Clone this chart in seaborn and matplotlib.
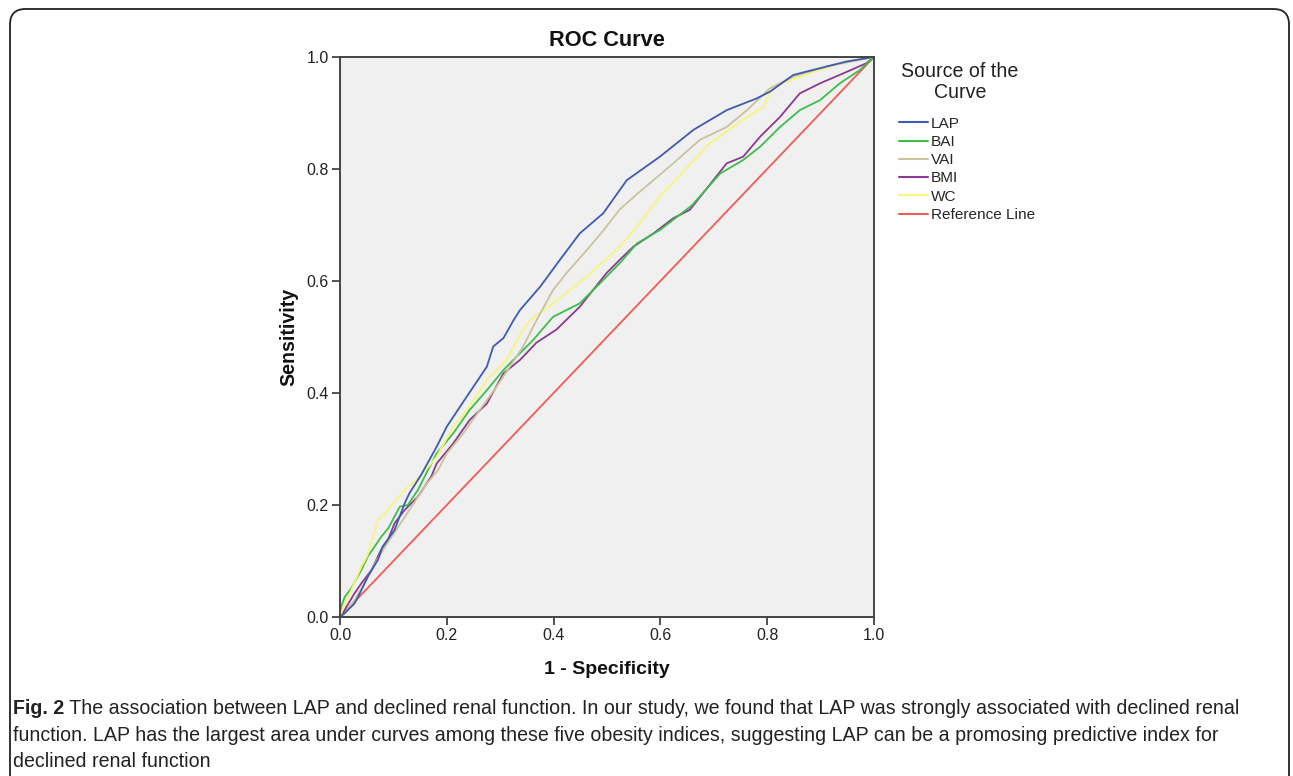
import numpy as np
import pandas as pd
import matplotlib
matplotlib.use("Agg")
import matplotlib.pyplot as plt
from matplotlib.patches import FancyBboxPatch
from matplotlib.lines import Line2D
from matplotlib import font_manager
import seaborn as sns

# ---------------- data ----------------
lap_fpr = [0, .009, .027, .034, .052, .071, .080, .102, .121, .130, .152, .181, .200, .237, .275, .287,
           .306, .325, .337, .375, .412, .449, .493, .537, .599, .662, .724, .780, .805, .849, .911, .949, 1]
lap_tpr = [0, .007, .024, .036, .072, .102, .126, .155, .203, .221, .254, .304, .340, .393, .447, .483,
           .498, .530, .548, .590, .638, .685, .721, .780, .822, .870, .905, .926, .938, .968, .983, .992, 1]

bai_fpr = [0, .002, .009, .021, .040, .052, .065, .077, .090, .102, .112, .127, .146, .165, .181, .212,
           .243, .275, .306, .337, .362, .399, .449, .487, .524, .556, .599, .659, .712, .755, .787, .824,
           .861, .899, .936, .974, 1]
bai_tpr = [0, .018, .036, .051, .084, .108, .126, .143, .158, .179, .197, .200, .227, .263, .292, .328,
           .370, .405, .441, .471, .495, .536, .560, .596, .632, .667, .691, .735, .792, .816, .840, .875,
           .905, .923, .953, .977, 1]

vai_fpr = [0, .009, .027, .046, .065, .084, .109, .134, .160, .184, .200, .231, .262, .293, .318, .343,
           .368, .399, .425, .462, .493, .524, .556, .587, .631, .674, .724, .762, .805, .849, .911, 1]
vai_tpr = [0, .007, .030, .060, .095, .125, .161, .197, .235, .263, .292, .328, .370, .411, .447, .483,
           .530, .584, .615, .655, .690, .728, .755, .780, .816, .852, .875, .905, .944, .965, .983, 1]

bmi_fpr = [0, .009, .027, .040, .059, .077, .090, .102, .121, .146, .171, .181, .212, .243, .275, .306,
           .337, .368, .405, .449, .474, .499, .524, .549, .587, .624, .655, .680, .724, .755, .787, .824,
           .861, .899, .943, .986, 1]
bmi_tpr = [0, .013, .042, .060, .084, .120, .138, .167, .191, .215, .251, .274, .310, .352, .381, .435,
           .459, .490, .513, .554, .584, .614, .638, .661, .685, .712, .727, .757, .810, .822, .858, .893,
           .935, .953, .971, .989, 1]

wc_fpr = [0, .002, .021, .040, .052, .071, .084, .121, .150, .181, .212, .243, .275, .312, .337, .356,
          .399, .462, .524, .556, .599, .693, .755, .793, .811, .880, .949, 1]
wc_tpr = [0, .007, .048, .090, .111, .173, .185, .227, .251, .286, .340, .376, .423, .459, .504, .530,
          .560, .608, .661, .697, .751, .846, .888, .911, .947, .971, .992, 1]

ref_fpr = [0, 1]
ref_tpr = [0, 1]

curve_names = ["LAP", "BAI", "VAI", "BMI", "WC", "Reference Line"]
legend_title = "Source of the\nCurve"
x_ticks = [0.0, 0.2, 0.4, 0.6, 0.8, 1.0]
y_ticks = [0.0, 0.2, 0.4, 0.6, 0.8, 1.0]

caption_bold = "Fig. 2"
caption_lines = [
    " The association between LAP and declined renal function. In our study, we found that LAP was strongly associated with declined renal",
    "function. LAP has the largest area under curves among these five obesity indices, suggesting LAP can be a promosing predictive index for",
    "declined renal function",
]

colors = {"LAP": "#3e5bb0", "BAI": "#3cbd4c", "VAI": "#c9c39a", "BMI": "#8b3a91",
          "WC": "#f7f57c", "Reference Line": "#f25a55"}

series = [("LAP", lap_fpr, lap_tpr), ("BAI", bai_fpr, bai_tpr), ("VAI", vai_fpr, vai_tpr),
          ("BMI", bmi_fpr, bmi_tpr), ("WC", wc_fpr, wc_tpr), ("Reference Line", ref_fpr, ref_tpr)]

frames = []
for name, fx, fy in series:
    frames.append(pd.DataFrame({"fpr": fx, "tpr": fy, "curve": name}))
df = pd.concat(frames, ignore_index=True)

# ---------------- styling ----------------
sns.set_theme(style="white")
installed = {f.name for f in font_manager.fontManager.ttflist}
base_font = "Liberation Sans" if "Liberation Sans" in installed else "DejaVu Sans"
plt.rcParams["font.family"] = [base_font, "DejaVu Sans"]

W, H = 1293, 776
fig = plt.figure(figsize=(W / 100, H / 100), dpi=100)
fig.patch.set_facecolor("white")

# rounded border around the figure panel (open at the bottom edge)
border = FancyBboxPatch((10 / W, -0.05), 1279 / W, 1.05 - 9 / H,
                        boxstyle="round,pad=0,rounding_size=0.012",
                        transform=fig.transFigure, fill=False, edgecolor="#222222",
                        linewidth=1.3, mutation_aspect=W / H)
fig.patches.append(border)

ax = fig.add_axes([340 / W, 1 - 617 / H, 534 / W, 560 / H])
ax.set_facecolor("#f0f0f0")

plot_order = ["Reference Line", "BMI", "BAI", "WC", "VAI", "LAP"]
for name in plot_order:
    sub = df[df["curve"] == name]
    sns.lineplot(data=sub, x="fpr", y="tpr", sort=False, estimator=None, ax=ax,
                 color=colors[name], linewidth=1.3, legend=False)

ax.set_xlim(0, 1)
ax.set_ylim(0, 1)
ax.set_xticks(x_ticks)
ax.set_yticks(y_ticks)
ax.set_xticklabels([f"{v:.1f}" for v in x_ticks])
ax.set_yticklabels([f"{v:.1f}" for v in y_ticks])
ax.tick_params(axis="both", direction="out", length=6, width=1.2, color="#333333",
               labelsize=11.5, labelcolor="#222222", pad=2, left=True, bottom=True)
for sp in ax.spines.values():
    sp.set_color("#444444")
    sp.set_linewidth(1.4)
    sp.set_visible(True)

xl = ax.set_xlabel("1 - Specificity", fontsize=16, fontweight="bold", color="#111111", labelpad=13)
yl = ax.set_ylabel("Sensitivity", fontsize=16, fontweight="bold", color="#111111", labelpad=6)
tt = ax.set_title("ROC Curve", fontsize=16, fontweight="bold", color="#111111", pad=8)

handles = [Line2D([0], [0], color=colors[n], linewidth=1.5) for n in curve_names]
leg = ax.legend(handles, curve_names, loc="upper left",
                bbox_to_anchor=(891 / W, 1 - 109 / H), bbox_transform=fig.transFigure,
                frameon=False, fontsize=11, handlelength=1.9,
                handletextpad=0.2, labelspacing=0.28, borderpad=0.0)
lt_title = fig.text(960 / W, 1 - 82 / H, legend_title, fontsize=13.5, color="#222222",
                    ha="center", va="center", multialignment="center", linespacing=1.12)

fs_cap = 15
t0 = fig.text(13 / W, 1 - 714 / H, caption_bold, fontsize=fs_cap, fontweight="bold",
              color="#222222", ha="left", va="baseline")
t1 = fig.text(0, 1 - 714 / H, caption_lines[0], fontsize=fs_cap, color="#222222",
              ha="left", va="baseline")
t2 = fig.text(13 / W, 1 - 741 / H, caption_lines[1], fontsize=fs_cap, color="#222222",
              ha="left", va="baseline")
t3 = fig.text(13 / W, 1 - 767 / H, caption_lines[2], fontsize=fs_cap, color="#222222",
              ha="left", va="baseline")


def width_px(t, r, vertical=False):
    bb = t.get_window_extent(renderer=r)
    return bb.height if vertical else bb.width


# fit text sizes to the widths measured on the reference
fig.canvas.draw()
r = fig.canvas.get_renderer()
for _ in range(2):
    for t, target, vert in [(tt, 116, False), (xl, 125, False), (yl, 98, True),
                            (lt_title, 117, False)]:
        t.set_fontsize(t.get_fontsize() * target / width_px(t, r, vert))
    ref_txt = leg.get_texts()[-1]
    new = ref_txt.get_fontsize() * 105 / width_px(ref_txt, r)
    for lt in leg.get_texts():
        lt.set_fontsize(new)
    total = width_px(t0, r) + width_px(t1, r)
    cur = t0.get_fontsize() * 1230 / total
    for t in (t0, t1, t2, t3):
        t.set_fontsize(cur)
    fig.canvas.draw()
    r = fig.canvas.get_renderer()
    bb0 = t0.get_window_extent(renderer=r)
    t1.set_x(bb0.x1 / fig.bbox.width)
    fig.canvas.draw()
    r = fig.canvas.get_renderer()

fig.savefig("out.png", dpi=100, facecolor="white")
